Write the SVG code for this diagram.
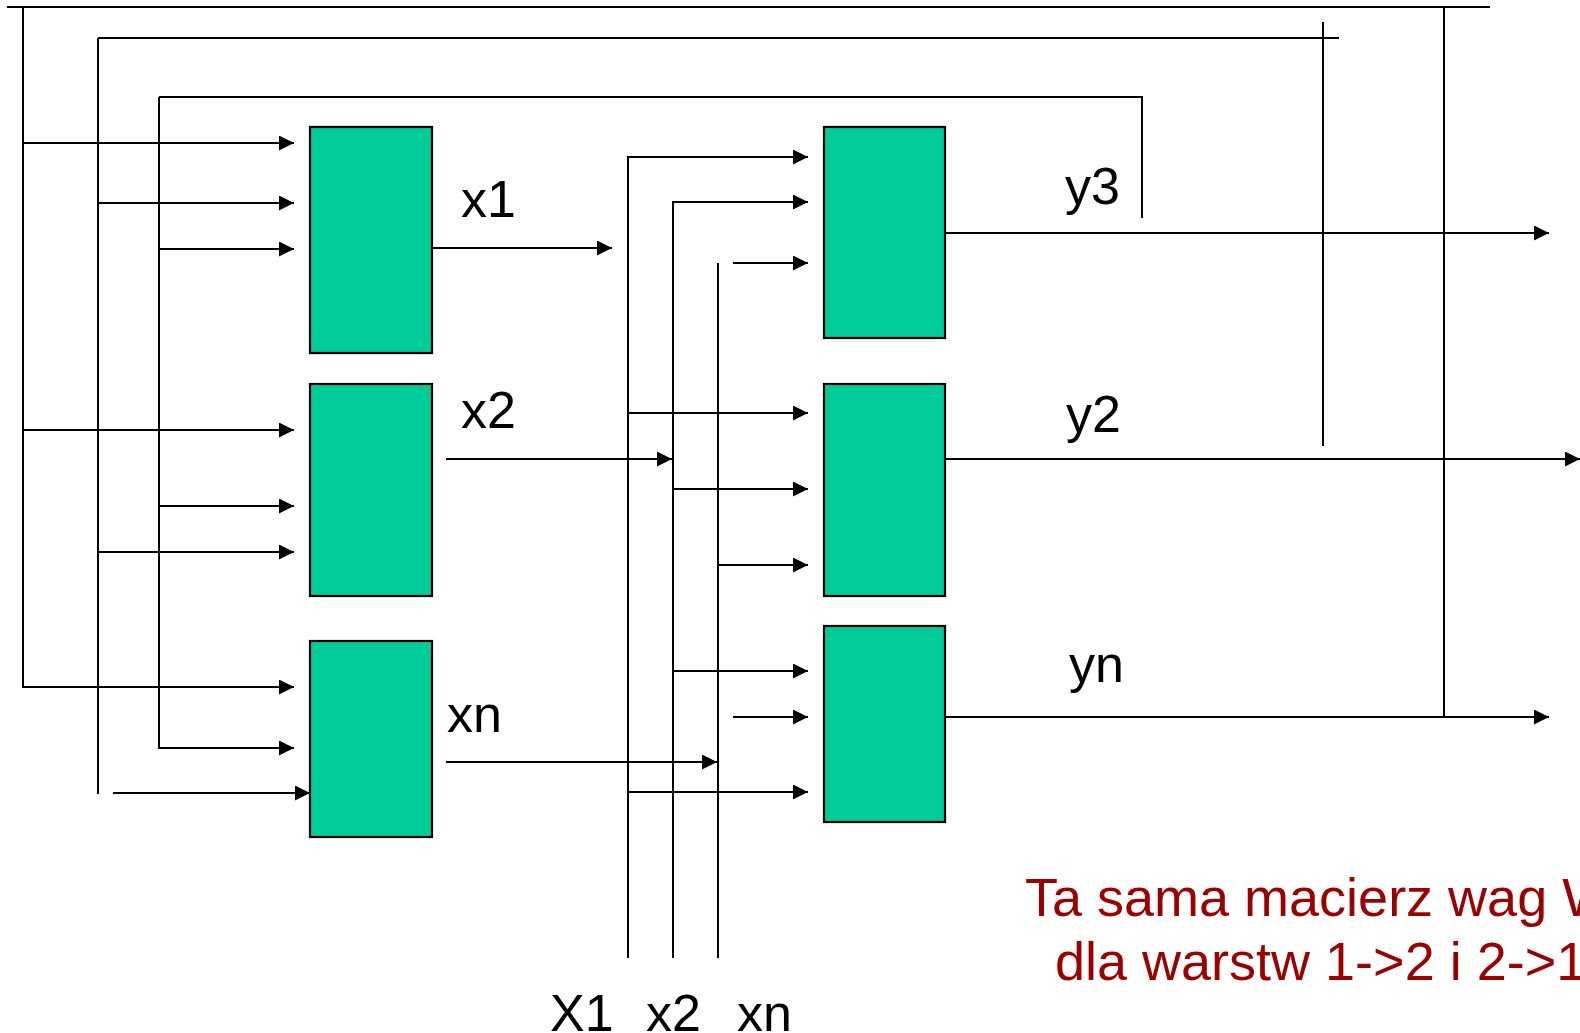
<svg xmlns="http://www.w3.org/2000/svg" width="1580" height="1033" viewBox="0 0 1580 1033">
<defs>
<marker id="ah" markerUnits="userSpaceOnUse" markerWidth="16" markerHeight="16" refX="15" refY="7.5" orient="auto">
<path d="M0,0 L15,7.5 L0,15 z" fill="#000"/>
</marker>
<style>
.box{fill:#00CC99;stroke:#000;stroke-width:2.2}
.ln{fill:none;stroke:#000;stroke-width:2}
.ar{fill:none;stroke:#000;stroke-width:2;marker-end:url(#ah)}
.lbl{font-family:"Liberation Sans",Arial,sans-serif;font-size:52px;fill:#000}
.note{font-family:"Liberation Sans",Arial,sans-serif;font-size:54px;fill:#990000}
</style>
</defs>
<rect width="1580" height="1033" fill="#fff"/>
<g id="connectors">
<path class="ln" d="M7,7 H1490"/>
<path class="ar" d="M23,7 V687 H294"/>
<path class="ar" d="M23,143 H294"/>
<path class="ar" d="M23,430 H294"/>
<path class="ln" d="M1444,7 V717"/>
<path class="ln" d="M98,38 H1339"/>
<path class="ln" d="M98,38 V794"/>
<path class="ar" d="M98,203 H294"/>
<path class="ar" d="M98,552 H294"/>
<path class="ln" d="M1323,22 V446"/>
<path class="ar" d="M113,793 H310"/>
<path class="ln" d="M1142,218 V97 H159"/>
<path class="ar" d="M159,97 V748 H294"/>
<path class="ar" d="M159,249 H294"/>
<path class="ar" d="M159,506 H294"/>
<path class="ar" d="M432,248 H612"/>
<path class="ar" d="M446,459 H672"/>
<path class="ar" d="M446,762 H717"/>
<path class="ar" d="M628,958 V157 H808"/>
<path class="ar" d="M628,413 H808"/>
<path class="ar" d="M628,792 H808"/>
<path class="ar" d="M673,958 V202 H808"/>
<path class="ar" d="M673,489 H808"/>
<path class="ar" d="M673,671 H808"/>
<path class="ln" d="M718,263 V958"/>
<path class="ar" d="M718,565 H808"/>
<path class="ar" d="M733,263 H808"/>
<path class="ar" d="M733,717 H808"/>
<path class="ar" d="M945,233 H1549"/>
<path class="ar" d="M945,459 H1580"/>
<path class="ar" d="M945,717 H1549"/>
</g>
<g id="n1"><rect class="box" x="310" y="127" width="122" height="226"/></g>
<g id="n2"><rect class="box" x="310" y="384" width="122" height="212"/></g>
<g id="n3"><rect class="box" x="310" y="641" width="122" height="196"/></g>
<g id="n4"><rect class="box" x="824" y="127" width="121" height="211"/></g>
<g id="n5"><rect class="box" x="824" y="384" width="121" height="212"/></g>
<g id="n6"><rect class="box" x="824" y="626" width="121" height="196"/></g>
<g id="labels">
<text class="lbl" x="461" y="217">x1</text>
<text class="lbl" x="461" y="428">x2</text>
<text class="lbl" x="447" y="732">xn</text>
<text class="lbl" x="1065" y="204">y3</text>
<text class="lbl" x="1066" y="432">y2</text>
<text class="lbl" x="1069" y="682">yn</text>
<text class="lbl" x="550" y="1031">X1</text>
<text class="lbl" x="646" y="1031">x2</text>
<text class="lbl" x="737" y="1031">xn</text>
</g>
<g id="note">
<text class="note" x="1025" y="916">Ta sama macierz wag W</text>
<text class="note" x="1055" y="980">dla warstw 1-&gt;2 i 2-&gt;1</text>
</g>
</svg>
